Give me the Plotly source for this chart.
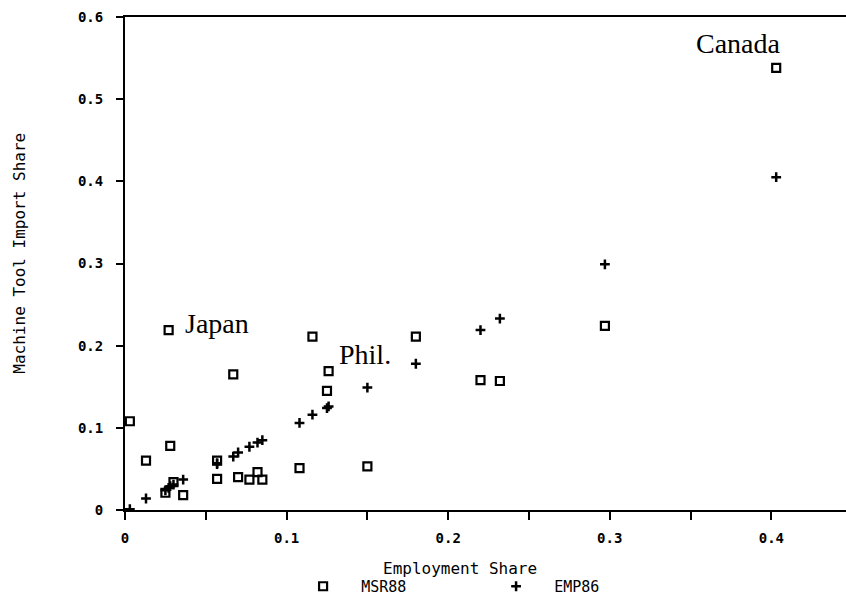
import plotly.graph_objects as go

# Employment share (x) and the two series (y)
emp_share = [0.403, 0.297, 0.232, 0.220, 0.180, 0.150, 0.126, 0.125, 0.116, 0.108,
             0.085, 0.082, 0.077, 0.070, 0.067, 0.057, 0.057, 0.036, 0.030, 0.028,
             0.027, 0.025, 0.013, 0.003]
msr88 = [0.538, 0.224, 0.157, 0.158, 0.211, 0.053, 0.169, 0.145, 0.211, 0.051,
         0.037, 0.046, 0.037, 0.040, 0.165, 0.060, 0.038, 0.018, 0.034, 0.078,
         0.219, 0.021, 0.060, 0.108]
emp86 = [0.405, 0.299, 0.233, 0.219, 0.178, 0.149, 0.126, 0.124, 0.116, 0.106,
         0.085, 0.082, 0.077, 0.070, 0.065, 0.057, 0.056, 0.037, 0.031, 0.029,
         0.027, 0.024, 0.014, 0.001]

x_tickvals = [0, 0.05, 0.1, 0.15, 0.2, 0.25, 0.3, 0.35, 0.4, 0.45]
x_ticktext = ["0", "", "0.1", "", "0.2", "", "0.3", "", "0.4", ""]
y_tickvals = [0, 0.1, 0.2, 0.3, 0.4, 0.5, 0.6]
y_ticktext = ["0", "0.1", "0.2", "0.3", "0.4", "0.5", "0.6"]

country_labels = [("Canada", 0, -38, 24), ("Japan", 20, 48, 7), ("Phil.", 6, 36, 17)]

MONO = "DejaVu Sans Mono"
SERIF = "Liberation Serif"
NB = "\u00a0\u00a0"

fig = go.Figure()
fig.add_trace(go.Scatter(
    x=emp_share, y=msr88, mode="markers", name=NB + "MSR88",
    marker=dict(symbol="square-open", size=8, color="black", line=dict(width=2.2, color="black")),
))
fig.add_trace(go.Scatter(
    x=emp_share, y=emp86, mode="markers", name=NB + "EMP86",
    marker=dict(symbol="cross-thin", size=7, color="black", line=dict(width=2.5, color="black")),
))

for text, i, dx, dy in country_labels:
    fig.add_annotation(x=emp_share[i], y=msr88[i], xref="x", yref="y", text=text,
                       showarrow=False, xshift=dx, yshift=dy,
                       font=dict(family=SERIF, size=28, color="black"))

fig.add_annotation(text="Machine Tool Import Share", xref="paper", yref="paper",
                   x=-0.1456, y=0.52, xanchor="center", yanchor="middle", textangle=-90,
                   showarrow=False, font=dict(family=MONO, size=16, color="black"))
fig.add_annotation(text="Employment Share", xref="paper", yref="paper",
                   x=0.4646, y=-0.119, xanchor="center", yanchor="middle",
                   showarrow=False, font=dict(family=MONO, size=16, color="black"))

fig.update_layout(
    width=846, height=603,
    margin=dict(l=125, r=0, t=17, b=90),
    paper_bgcolor="white", plot_bgcolor="white",
    showlegend=True,
    legend=dict(orientation="h", x=0.247, y=-0.156, xanchor="left", yanchor="middle",
                bgcolor="rgba(0,0,0,0)", entrywidth=148, entrywidthmode="pixels",
                font=dict(family=MONO, size=15, color="black")),
    xaxis=dict(range=[0, 0.4462], tickvals=x_tickvals, ticktext=x_ticktext,
               showgrid=False, zeroline=False, showline=True, linecolor="black",
               linewidth=2, mirror=True, ticks="outside", ticklen=8, tickwidth=1.5,
               tickcolor="black", ticklabelstandoff=6,
               tickfont=dict(family=MONO, size=14, color="black", weight="bold")),
    yaxis=dict(range=[0, 0.6], tickvals=y_tickvals, ticktext=y_ticktext,
               showgrid=False, zeroline=False, showline=True, linecolor="black",
               linewidth=2, ticks="outside", ticklen=7, tickwidth=1.5,
               tickcolor="black", ticklabelstandoff=10,
               tickfont=dict(family=MONO, size=14, color="black", weight="bold")),
)

fig.write_html("out.html")
